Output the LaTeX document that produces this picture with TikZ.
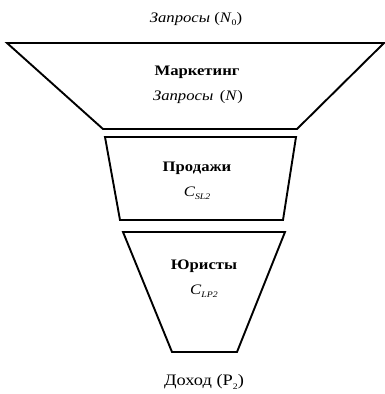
\documentclass[tikz,border=0pt]{standalone}
\usepackage{fontspec}
\setmainfont[FakeStretch=1.15]{Liberation Serif}
\newcommand{\subtxt}[1]{\raisebox{-0.5ex}{\fontsize{8.5}{9}\selectfont #1}}
\begin{document}
\begin{tikzpicture}[x=1pt,y=-1pt,
  funnel/.style={draw=black,line width=1.9pt,line join=miter,fill=white},
  lbl/.style={font=\fontsize{14.5}{16}\selectfont,inner sep=0pt,anchor=center}]
\useasboundingbox (0,0) rectangle (385,394);
% funnel stages
\draw[funnel] (7,43) -- (384,43) -- (297,129) -- (103,129) -- cycle;
\draw[funnel] (105,137) -- (296,137) -- (283,220) -- (120,220) -- cycle;
\draw[funnel] (123,232) -- (285,232) -- (237,352) -- (172,352) -- cycle;
% labels
\node[lbl] (top) at (196,19) {\textit{Запросы} (\textit{N}\subtxt{0})};
\node[lbl] (mk) at (197,72) {\textbf{Маркетинг}};
\node[lbl] (mkq) at (198,97) {\textit{Запросы}\ \,(\textit{N})};
\node[lbl] (sl) at (197,168) {\textbf{Продажи}};
\node[lbl] (slc) at (197,193) {\textit{C}\subtxt{\textit{SL2}}};
\node[lbl] (lp) at (204,266) {\textbf{Юристы}};
\node[lbl] (lpc) at (204,291) {\textit{C}\subtxt{\textit{LP2}}};
\node[lbl,font=\fontsize{16}{18}\selectfont] (rev) at (204,382) {Доход (P\subtxt{2})};
\end{tikzpicture}
\end{document}
